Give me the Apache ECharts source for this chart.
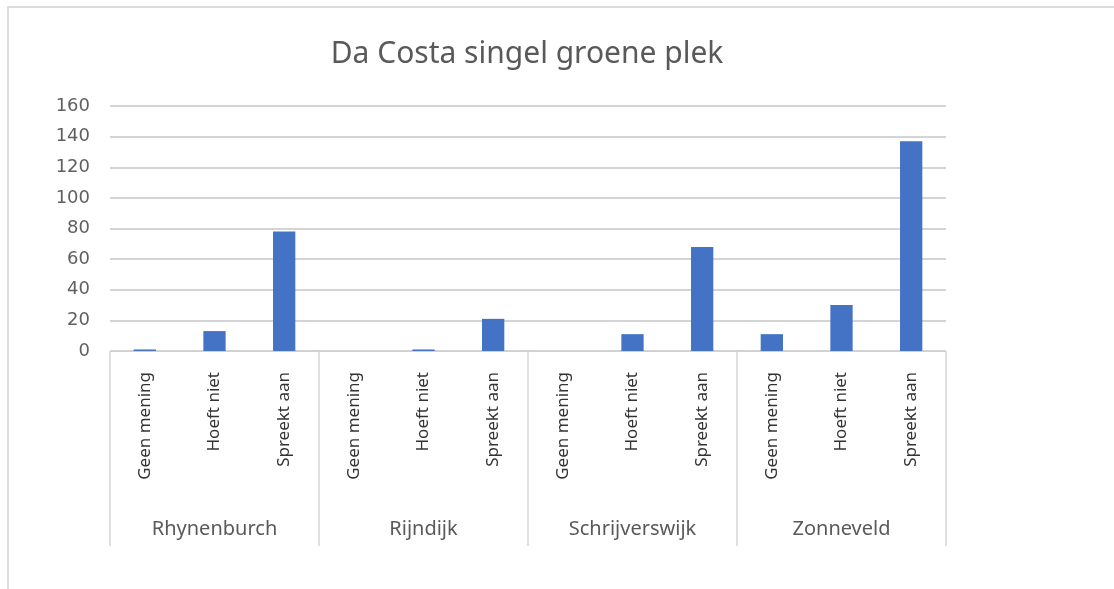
<!DOCTYPE html>
<html>
<head>
<meta charset="utf-8">
<script src="https://cdn.jsdelivr.net/npm/echarts@6/dist/echarts.min.js"></script>
<style>
html,body{margin:0;padding:0;background:#fff;}
#chart{width:1114px;height:589px;}
</style>
</head>
<body>
<div id="chart"></div>
<script>
const groups = ['Rhynenburch', 'Rijndijk', 'Schrijverswijk', 'Zonneveld'];
const answers = ['Geen mening', 'Hoeft niet', 'Spreekt aan'];
const rhynenburch = [1, 13, 78];
const rijndijk = [0, 1, 21];
const schrijverswijk = [0, 11, 68];
const zonneveld = [11, 30, 137];
const yTicks = { min: 0, max: 160, interval: 20 };

const groupValues = [rhynenburch, rijndijk, schrijverswijk, zonneveld];
const categories = [];
const values = [];
groups.forEach((g, gi) => {
  answers.forEach((a, ai) => {
    categories.push(a);
    values.push(groupValues[gi][ai]);
  });
});

const chart = echarts.init(document.getElementById('chart'));
chart.setOption({
  animation: false,
  backgroundColor: '#fff',
  graphic: [{
    type: 'rect', silent: true, z: -1,
    shape: { x: 8, y: 7, width: 1120, height: 600 },
    style: { fill: 'none', stroke: '#dcdcdc', lineWidth: 2 }
  }],
  title: {
    text: 'Da Costa singel groene plek',
    left: 522, top: 34, textAlign: 'center',
    textStyle: { fontFamily: 'Noto Sans', fontSize: 30, fontWeight: 'normal', color: '#595959' }
  },
  grid: { left: 110, right: 168, top: 106, bottom: 238 },
  xAxis: [
    {
      type: 'category', data: categories, position: 'bottom',
      axisLine: { show: true, lineStyle: { color: '#d0d0d0', width: 1 } },
      axisTick: { show: false },
      axisLabel: { rotate: 90, margin: 21, color: '#333333', fontFamily: 'Noto Sans', fontSize: 17, interval: 0 }
    },
    {
      type: 'category', data: groups, position: 'bottom',
      axisLine: { show: false },
      axisTick: { show: true, length: 195, interval: 0, lineStyle: { color: '#d6d6d6', width: 1.5 } },
      axisLabel: { margin: 168, color: '#595959', fontFamily: 'Noto Sans', fontSize: 20, interval: 0 }
    }
  ],
  yAxis: {
    type: 'value', min: yTicks.min, max: yTicks.max, interval: yTicks.interval,
    axisLine: { show: false }, axisTick: { show: false },
    splitLine: { lineStyle: { color: '#d4d4d4', width: 2 } },
    axisLabel: { margin: 20, color: '#606060', fontFamily: 'DejaVu Sans', fontSize: 18 }
  },
  series: [{
    type: 'bar', data: values, xAxisIndex: 0, barWidth: '32%',
    itemStyle: { color: '#4472C4' }
  }]
});
</script>
</body>
</html>
